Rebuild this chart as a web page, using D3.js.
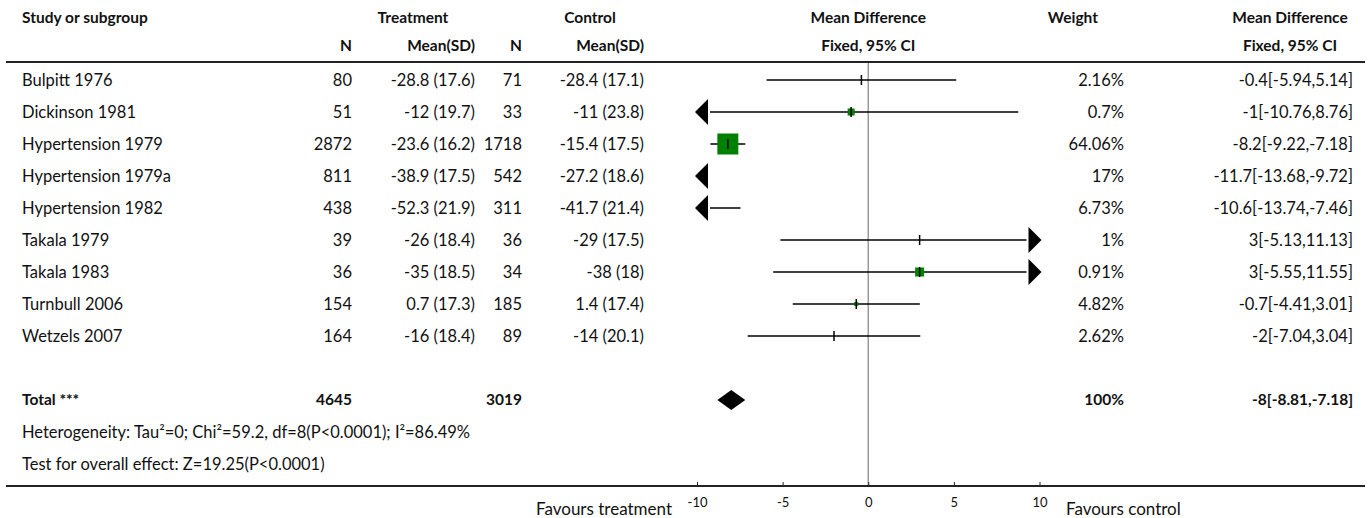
<!DOCTYPE html>
<html>
<head>
<meta charset="utf-8">
<script src="https://cdn.jsdelivr.net/npm/d3@7"></script>
<style>
  html, body { margin: 0; padding: 0; background: #fff; }
  svg text { font-family: "Source Sans Pro", Lato, "Noto Sans", sans-serif; fill: #111; }
</style>
</head>
<body>
<svg id="chart" width="1370" height="518"></svg>
<script>
// ---------------- DATA ----------------
const studies = ["Bulpitt 1976", "Dickinson 1981", "Hypertension 1979", "Hypertension 1979a",
  "Hypertension 1982", "Takala 1979", "Takala 1983", "Turnbull 2006", "Wetzels 2007"];
const treatN = [80, 51, 2872, 811, 438, 39, 36, 154, 164];
const treatMeanSD = ["-28.8 (17.6)", "-12 (19.7)", "-23.6 (16.2)", "-38.9 (17.5)", "-52.3 (21.9)",
  "-26 (18.4)", "-35 (18.5)", "0.7 (17.3)", "-16 (18.4)"];
const ctrlN = [71, 33, 1718, 542, 311, 36, 34, 185, 89];
const ctrlMeanSD = ["-28.4 (17.1)", "-11 (23.8)", "-15.4 (17.5)", "-27.2 (18.6)", "-41.7 (21.4)",
  "-29 (17.5)", "-38 (18)", "1.4 (17.4)", "-14 (20.1)"];
const md = [-0.4, -1, -8.2, -11.7, -10.6, 3, 3, -0.7, -2];
const ciLow = [-5.94, -10.76, -9.22, -13.68, -13.74, -5.13, -5.55, -4.41, -7.04];
const ciHigh = [5.14, 8.76, -7.18, -9.72, -7.46, 11.13, 11.55, 3.01, 3.04];
const weights = ["2.16%", "0.7%", "64.06%", "17%", "6.73%", "1%", "0.91%", "4.82%", "2.62%"];
const total = { label: "Total ***", treatN: 4645, ctrlN: 3019, md: -8, lo: -8.81, hi: -7.18, weight: "100%" };
const heterogeneity = "Heterogeneity: Tau²=0; Chi²=59.2, df=8(P<0.0001); I²=86.49%";
const overallTest = "Test for overall effect: Z=19.25(P<0.0001)";
const axisTicks = [-10, -5, 0, 5, 10];
const axisDomain = [-10, 10];
const leftLabel = "Favours treatment";
const rightLabel = "Favours control";

// ---------------- STYLE ----------------
const markerBox = [0, 7, 21, 0, 0, 0, 9, 4, 0]; // green box side (px) as drawn in the reference
const rowY0 = 80, rowStep = 32;
const col = { study: 22, tN: 352, tM: 475, cN: 522, cM: 644, wt: 1124, mdTxt: 1353 };
const fsReg = 16.5, fsBold = 15.5;

const svg = d3.select("#chart");
const x = d3.scaleLinear().domain(axisDomain).range([697, 1039.5]);
const y = d3.scaleLinear().domain([0, 1]).range([rowY0, rowY0 + rowStep]);

function txt(g, xx, yy, s, anchor, bold, size) {
  return g.append("text").attr("x", xx).attr("y", yy).attr("dy", "0.35em")
    .attr("text-anchor", anchor || "start")
    .attr("font-size", size || (bold ? fsBold : fsReg))
    .attr("font-weight", bold ? "bold" : "normal")
    .text(s);
}

// headers
const h = svg.append("g");
txt(h, col.study, 18, "Study or subgroup", "start", true);
txt(h, 413, 18, "Treatment", "middle", true);
txt(h, 590, 18, "Control", "middle", true);
txt(h, x(0), 18, "Mean Difference", "middle", true);
txt(h, 1098, 18, "Weight", "end", true);
txt(h, 1290, 18, "Mean Difference", "middle", true);
txt(h, col.tN, 46, "N", "end", true);
txt(h, col.tM, 46, "Mean(SD)", "end", true);
txt(h, col.cN, 46, "N", "end", true);
txt(h, col.cM, 46, "Mean(SD)", "end", true);
txt(h, x(0), 46, "Fixed, 95% CI", "middle", true);
txt(h, 1290, 46, "Fixed, 95% CI", "middle", true);

// rule lines
svg.append("line").attr("x1", 6).attr("x2", 1365).attr("y1", 62).attr("y2", 62)
  .attr("stroke", "#222").attr("stroke-width", 2);
svg.append("line").attr("x1", 6).attr("x2", 1365).attr("y1", 486).attr("y2", 486)
  .attr("stroke", "#222").attr("stroke-width", 2);

// zero line
svg.append("line").attr("x1", x(0)).attr("x2", x(0)).attr("y1", 63).attr("y2", 485)
  .attr("stroke", "#8c8c8c").attr("stroke-width", 1.3);

// rows
const rows = svg.append("g");
studies.forEach((s, i) => {
  const yy = y(i);
  txt(rows, col.study, yy, s, "start");
  txt(rows, col.tN, yy, treatN[i], "end");
  txt(rows, col.tM, yy, treatMeanSD[i], "end");
  txt(rows, col.cN, yy, ctrlN[i], "end");
  txt(rows, col.cM, yy, ctrlMeanSD[i], "end");
  txt(rows, col.wt, yy, weights[i], "end");
  txt(rows, col.mdTxt, yy, `${md[i]}[${ciLow[i]},${ciHigh[i]}]`, "end");

  const [dmin, dmax] = axisDomain;
  const leftOut = ciLow[i] < dmin, rightOut = ciHigh[i] > dmax;
  const arrowW = 13, arrowH = 13;
  const lx = leftOut ? x(dmin) + arrowW : x(Math.max(ciLow[i], dmin));
  const rx = rightOut ? x(dmax) - arrowW : x(Math.min(ciHigh[i], dmax));
  if (rx > lx) {
    rows.append("line").attr("x1", lx).attr("x2", rx).attr("y1", yy).attr("y2", yy)
      .attr("stroke", "#000").attr("stroke-width", 1.5);
  }
  if (leftOut) {
    const tip = x(dmin) - 2;
    rows.append("path").attr("d", `M${tip},${yy}L${tip + arrowW},${yy - arrowH}L${tip + arrowW},${yy + arrowH}Z`)
      .attr("fill", "#000");
  }
  if (rightOut) {
    const tip = x(dmax) + 2;
    rows.append("path").attr("d", `M${tip},${yy}L${tip - arrowW},${yy - arrowH}L${tip - arrowW},${yy + arrowH}Z`)
      .attr("fill", "#000");
  }
  if (md[i] >= dmin && md[i] <= dmax) {
    const b = markerBox[i];
    if (b > 0) {
      rows.append("rect").attr("x", x(md[i]) - b / 2).attr("y", yy - b / 2)
        .attr("width", b).attr("height", b).attr("fill", "#008000");
    }
    rows.append("line").attr("x1", x(md[i])).attr("x2", x(md[i]))
      .attr("y1", yy - 5).attr("y2", yy + 5).attr("stroke", "#000").attr("stroke-width", 1.5);
  }
});

// total
const ty = y(studies.length + 1);
txt(rows, col.study, ty, total.label, "start", true);
txt(rows, col.tN, ty, total.treatN, "end", true);
txt(rows, col.cN, ty, total.ctrlN, "end", true);
txt(rows, col.wt, ty, total.weight, "end", true);
txt(rows, col.mdTxt, ty, `${total.md}[${total.lo},${total.hi}]`, "end", true);
rows.append("path")
  .attr("d", `M${x(total.lo)},${ty}L${x(total.md)},${ty - 10}L${x(total.hi)},${ty}L${x(total.md)},${ty + 10}Z`)
  .attr("fill", "#000");

txt(rows, col.study, y(studies.length + 2), heterogeneity, "start");
txt(rows, col.study, y(studies.length + 3), overallTest, "start");

// axis
const axis = d3.axisBottom(x).tickValues(axisTicks).tickSizeInner(-4).tickSizeOuter(0).tickPadding(12)
  .tickFormat(d => String(d));
const ag = svg.append("g").attr("transform", "translate(0,486)").call(axis);
ag.select(".domain").remove();
ag.selectAll(".tick line").attr("stroke", "#222").attr("stroke-width", 1);
ag.selectAll(".tick text").attr("font-family", "'DejaVu Sans', sans-serif").attr("font-size", 13).attr("fill", "#111");

txt(svg, 672, 509, leftLabel, "end", false, 17);
txt(svg, 1066, 509, rightLabel, "start", false, 17);
</script>
</body>
</html>
